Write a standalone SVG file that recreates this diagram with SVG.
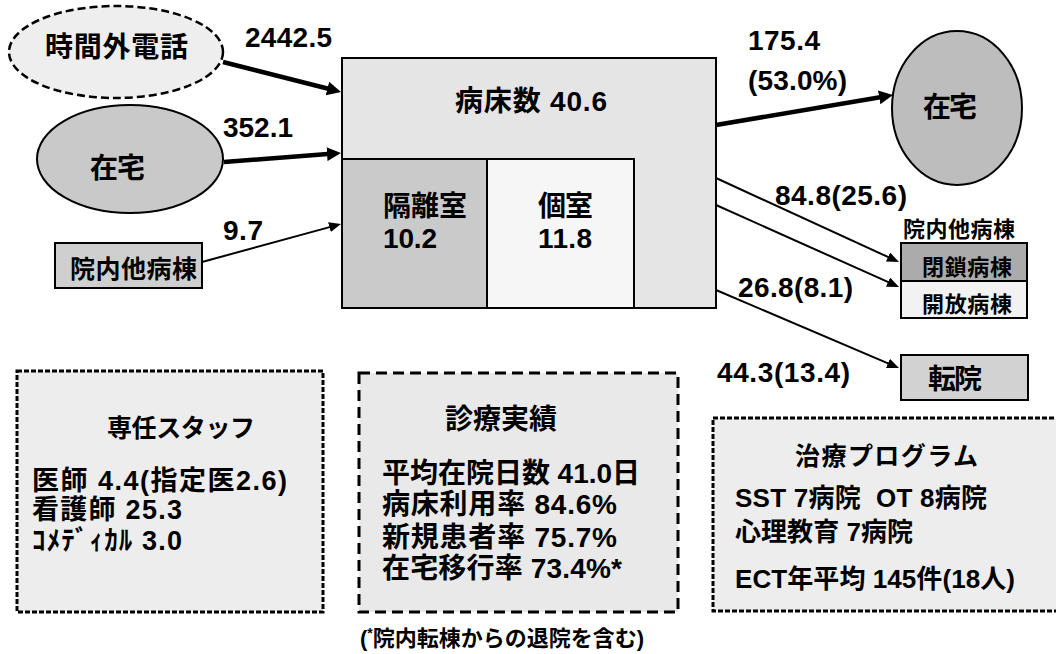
<svg xmlns="http://www.w3.org/2000/svg" width="1056" height="654" viewBox="0 0 1056 654">
<style>
text{font-family:"Liberation Sans","Noto Sans CJK JP",sans-serif;font-weight:bold;fill:#000}
.n{font-size:28px}
.s{font-size:25px}
.t{font-size:27px}
.u{font-size:26px}
.m{font-size:22px}
.b{stroke:#000;stroke-width:2}
.thick{stroke:#000;stroke-width:4.5;fill:none}
.thin{stroke:#000;stroke-width:2;fill:none}
.dsmall{stroke:#000;stroke-width:3;stroke-dasharray:5 2;fill:#ededed}
.dbig{stroke:#000;stroke-width:3;stroke-dasharray:11 6;fill:#e9e9e9}
</style>
<defs>
<marker id="ah" markerUnits="userSpaceOnUse" markerWidth="16" markerHeight="14" refX="4" refY="7" orient="auto"><path d="M0,0 L14,7 L0,14 z" fill="#000"/></marker>
<marker id="at" markerUnits="userSpaceOnUse" markerWidth="14" markerHeight="12" refX="4" refY="5" orient="auto"><path d="M0,0 L12,5 L0,10 z" fill="#000"/></marker>
</defs>
<rect width="1056" height="654" fill="#fff"/>

<g id="jikangai">
<ellipse cx="116" cy="52" rx="107" ry="46" fill="#eeeeee" stroke="#000" stroke-width="2.5" stroke-dasharray="8 4"/>
<text class="n" x="45" y="57" textLength="143">時間外電話</text>
</g>
<g id="zaitaku-in">
<ellipse cx="130" cy="159" rx="93" ry="54" fill="#c9c9c9" class="b"/>
<text class="n" x="90" y="178" textLength="55">在宅</text>
</g>
<g id="innai-in">
<rect x="55" y="243" width="147" height="45" fill="#cfcfcf" class="b"/>
<text class="s" x="70" y="278" textLength="127">院内他病棟</text>
</g>

<g id="byosho">
<rect x="342" y="58" width="374" height="250" fill="#e5e5e5" class="b"/>
<text class="n" x="455" y="111" textLength="152">病床数 40.6</text>
</g>
<g id="kakuri">
<rect x="342" y="159" width="145" height="149" fill="#cacaca" class="b"/>
<text class="n" x="383" y="216" textLength="84">隔離室</text>
<text class="n" x="383" y="248" textLength="54">10.2</text>
</g>
<g id="koshitsu">
<rect x="487" y="159" width="147" height="149" fill="#f6f6f6" class="b"/>
<text class="n" x="538" y="216" textLength="55">個室</text>
<text class="n" x="538" y="248" textLength="54">11.8</text>
</g>

<g id="zaitaku-out">
<ellipse cx="957" cy="108" rx="65" ry="77" fill="#bdbdbd" class="b"/>
<text class="n" x="923" y="117" textLength="54">在宅</text>
</g>
<g id="innai-out">
<text class="m" x="903" y="237" textLength="112">院内他病棟</text>
<rect x="901" y="243" width="126" height="38" fill="#ababab" class="b"/>
<text class="m" x="922" y="275" textLength="90">閉鎖病棟</text>
<rect x="901" y="281" width="126" height="37" fill="#f2f2f2" class="b"/>
<text class="m" x="922" y="312" textLength="90">開放病棟</text>
</g>
<g id="tenin">
<rect x="901" y="355" width="127" height="45" fill="#d2d2d2" class="b"/>
<text class="n" x="928" y="389" textLength="54">転院</text>
</g>

<g id="connectors">
<path class="thick" d="M223,62 L331.3,89.5" marker-end="url(#ah)"/>
<path class="thick" d="M224,162 L331,153.8" marker-end="url(#ah)"/>
<path class="thin" d="M202,262 L333.3,226.1" marker-end="url(#at)"/>
<path class="thick" d="M716,125 L883.1,96.7" marker-end="url(#ah)"/>
<path class="thin" d="M716,178 L891.7,258.7" marker-end="url(#at)"/>
<path class="thin" d="M716,205 L891.7,283.7" marker-end="url(#at)"/>
<path class="thin" d="M716,290 L891.6,364.9" marker-end="url(#at)"/>
<text class="n" x="245" y="47" textLength="87">2442.5</text>
<text class="n" x="223" y="137" textLength="70">352.1</text>
<text class="n" x="223" y="240" textLength="40">9.7</text>
<text class="n" x="748" y="50" textLength="72">175.4</text>
<text class="n" x="748" y="90" textLength="99">(53.0%)</text>
<text class="n" x="775" y="205" textLength="132">84.8(25.6)</text>
<text class="n" x="738" y="297" textLength="115">26.8(8.1)</text>
<text class="n" x="717" y="382" textLength="133">44.3(13.4)</text>
</g>

<g id="staff">
<rect x="17" y="371" width="306" height="241" class="dsmall"/>
<text class="s" x="107" y="437" textLength="148">専任スタッフ</text>
<text class="t" x="32" y="490" textLength="255">医師 4.4(指定医2.6)</text>
<text class="t" x="32" y="519" textLength="150">看護師 25.3</text>
<text class="t" x="32" y="550" textLength="150">ｺﾒﾃﾞｨｶﾙ 3.0</text>
</g>
<g id="jisseki">
<rect x="359" y="373" width="319" height="239" class="dbig"/>
<text class="n" x="445" y="429" textLength="112">診療実績</text>
<text class="n" x="382" y="483" textLength="258">平均在院日数 41.0日</text>
<text class="n" x="382" y="514" textLength="235">病床利用率 84.6%</text>
<text class="n" x="382" y="547" textLength="235">新規患者率 75.7%</text>
<text class="n" x="382" y="578" textLength="240">在宅移行率 73.4%*</text>
<text class="m" x="360" y="646">(<tspan font-size="14" dy="-8">*</tspan><tspan dy="8">院内転棟からの退院を含む)</tspan></text>
</g>
<g id="program">
<rect x="713" y="418" width="360" height="193" class="dsmall"/>
<text class="s" x="795" y="465" textLength="183">治療プログラム</text>
<text class="u" x="735" y="507" textLength="252" xml:space="preserve">SST 7病院  OT 8病院</text>
<text class="u" x="735" y="541" textLength="178">心理教育 7病院</text>
<text class="u" x="735" y="588" textLength="280">ECT年平均 145件(18人)</text>
</g>
</svg>
